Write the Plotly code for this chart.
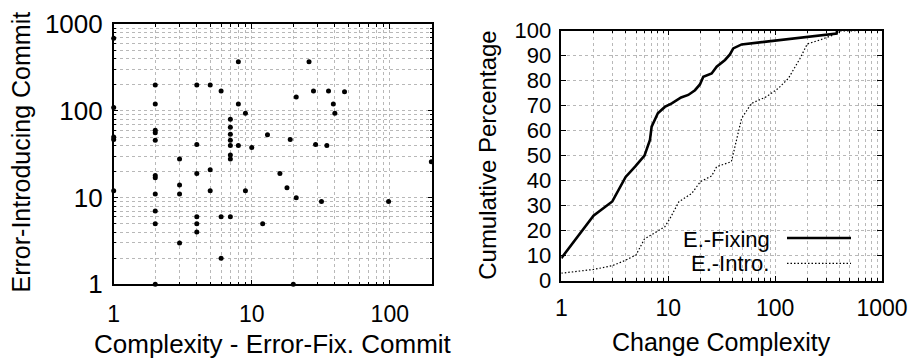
import plotly.graph_objects as go

# ---------------- data ----------------
# left: scatter of complexity of error-fixing commit vs error-introducing commit
fix_complexity = [1, 1, 1, 1, 1,
                  2, 2, 2, 2, 2, 2, 2, 2, 2, 2, 2,
                  3, 3, 3, 3,
                  4, 4, 4, 4, 4, 4,
                  5, 5, 5,
                  6, 6, 6,
                  7, 7, 7, 7, 7, 7, 7, 7,
                  8, 8, 8,
                  9, 9,
                  10, 12, 13, 16, 18, 19, 20, 21, 21, 26, 28, 29, 32, 35, 36, 39, 40, 47, 98, 200]
intro_complexity = [690, 110, 50, 47, 12,
                    200, 120, 60, 56, 46, 18, 17, 11, 7, 5, 1,
                    28, 14, 11, 3,
                    200, 41, 19, 6, 5, 4,
                    200, 21, 12,
                    170, 6, 2,
                    80, 65, 54, 46, 40, 31, 28, 6,
                    370, 120, 40,
                    94, 12,
                    38, 5, 53, 19, 13, 47, 1, 145, 10, 370, 170, 41, 9, 40, 170, 120, 94, 167, 9, 26]

# right: cumulative distributions of change complexity
fixing_x = [1, 2, 3, 4, 4.9, 6, 6.75, 7, 8, 9.3, 10.8, 12, 13.2, 15.4, 17.8, 19.8,
            21.3, 25.5, 28.4, 34, 37.8, 40.6, 48.6, 376, 380]
fixing_pct = [9, 26, 31.7, 41.5, 45.6, 50, 56.3, 61.6, 67, 69.5, 70.9, 72, 73.3, 74.3, 76.2, 78.5,
              81.6, 82.9, 85.6, 88.3, 90.5, 92.9, 94.5, 98.9, 100]
intro_x = [1, 2, 3, 3.9, 5, 6, 7, 9.3, 10.4, 12.6, 16.6, 20, 25.5, 28.4, 39, 40.6, 43.7,
           48.6, 60, 83, 107, 133, 171, 200, 263, 350, 405, 600]
intro_pct = [3, 4.5, 6, 8, 10.3, 16.7, 18.4, 21.6, 24.9, 31.6, 34.9, 39.6, 41.9, 45.6, 47.6, 51, 56.3,
             64.9, 70.9, 73.6, 76.9, 80.9, 88.9, 94.7, 96.3, 98.3, 99.9, 100]

series_names = ["E.-Fixing", "E.-Intro."]
left_x_ticks = [1, 10, 100]
left_y_ticks = [1, 10, 100, 1000]
right_x_ticks = [1, 10, 100, 1000]
right_y_ticks = list(range(0, 101, 10))

# ---------------- styling ----------------
W, H = 913, 363
GRID = "#b8b8b8"
GDASH = "3px,3px"
FONT = "Liberation Sans, Arial, sans-serif"


def px_x(v):
    return v / W


def px_y(v):
    return (H - v) / H


def minor_vals(decades):
    return [d * m for d in decades for m in range(2, 10)]


def base_axis(**kw):
    a = dict(showline=True, linecolor="black", linewidth=1.5, mirror="ticks",
             ticks="inside", ticklen=5, tickcolor="black", tickwidth=1,
             showgrid=True, gridcolor=GRID, griddash=GDASH, gridwidth=1,
             zeroline=False, automargin=False, fixedrange=True,
             tickfont=dict(family=FONT, size=23, color="black"))
    a.update(kw)
    return a


def minor_axis(decades):
    return dict(tickvals=minor_vals(decades), ticks="inside", ticklen=3,
                tickcolor="black", tickwidth=1, showgrid=True,
                gridcolor=GRID, griddash=GDASH, gridwidth=1)


fig = go.Figure()

fig.add_trace(go.Scatter(x=fix_complexity, y=intro_complexity, mode="markers",
                         marker=dict(color="black", size=5), cliponaxis=False,
                         xaxis="x", yaxis="y", showlegend=False))
fig.add_trace(go.Scatter(x=fixing_x, y=fixing_pct, mode="lines", name=series_names[0],
                         line=dict(color="black", width=2.6),
                         xaxis="x2", yaxis="y2", showlegend=False))
fig.add_trace(go.Scatter(x=intro_x, y=intro_pct, mode="lines", name=series_names[1],
                         line=dict(color="black", width=1.2, dash="1.5px,2px"),
                         xaxis="x2", yaxis="y2", showlegend=False))

fig.update_layout(
    width=W, height=H,
    margin=dict(l=0, r=0, t=0, b=0),
    paper_bgcolor="white", plot_bgcolor="white",
    font=dict(family=FONT, color="black"),
    xaxis=base_axis(type="log", range=[0, 2.308],
                    domain=[px_x(113.7), px_x(432.3)], anchor="y",
                    tickvals=left_x_ticks, ticktext=[str(v) for v in left_x_ticks],
                    ticklabelstandoff=8,
                    minor=minor_axis([1, 10, 100])),
    yaxis=base_axis(type="log", range=[0, 3],
                    domain=[px_y(284.3), px_y(24.3)], anchor="x",
                    tickvals=left_y_ticks, ticktext=[str(v) for v in left_y_ticks],
                    ticklabelstandoff=4,
                    tickfont=dict(family=FONT, size=26, color="black"),
                    minor=minor_axis([1, 10, 100])),
    xaxis2=base_axis(type="log", range=[0, 3],
                     domain=[px_x(561.3), px_x(882)], anchor="y2",
                     tickvals=right_x_ticks, ticktext=[str(v) for v in right_x_ticks],
                     ticklabelstandoff=6,
                     minor=minor_axis([1, 10, 100])),
    yaxis2=base_axis(range=[0, 100], tickvals=right_y_ticks,
                     ticktext=[str(v) for v in right_y_ticks],
                     domain=[px_y(280.7), px_y(30.7)], anchor="x2",
                     ticklabelstandoff=4,
                     tickfont=dict(family=FONT, size=22, color="black")),
)

ann = []
ann.append(dict(text="Error-Introducing Commit", textangle=-90, x=px_x(20), y=px_y(152.5),
                xref="paper", yref="paper", showarrow=False, xanchor="center", yanchor="middle",
                font=dict(family=FONT, size=25, color="black")))
ann.append(dict(text="Complexity - Error-Fix. Commit", x=px_x(272.5), y=px_y(344),
                xref="paper", yref="paper", showarrow=False, xanchor="center", yanchor="middle",
                font=dict(family=FONT, size=26, color="black")))
ann.append(dict(text="Cumulative Percentage", textangle=-90, x=px_x(488), y=px_y(154.8),
                xref="paper", yref="paper", showarrow=False, xanchor="center", yanchor="middle",
                font=dict(family=FONT, size=24, color="black")))
ann.append(dict(text="Change Complexity", x=px_x(721.7), y=px_y(342),
                xref="paper", yref="paper", showarrow=False, xanchor="center", yanchor="middle",
                font=dict(family=FONT, size=25, color="black")))
# legend (gnuplot style: text, then sample line)
ann.append(dict(text=series_names[0], x=px_x(772), y=px_y(239),
                xref="paper", yref="paper", showarrow=False, xanchor="right", yanchor="middle",
                font=dict(family=FONT, size=22, color="black")))
ann.append(dict(text=series_names[1], x=px_x(771), y=px_y(263.5),
                xref="paper", yref="paper", showarrow=False, xanchor="right", yanchor="middle",
                font=dict(family=FONT, size=22, color="black")))
fig.update_layout(annotations=ann)

fig.update_layout(shapes=[
    dict(type="line", xref="paper", yref="paper", x0=px_x(787), x1=px_x(851),
         y0=px_y(238), y1=px_y(238), line=dict(color="black", width=2.6)),
    dict(type="line", xref="paper", yref="paper", x0=px_x(787), x1=px_x(851),
         y0=px_y(263.3), y1=px_y(263.3), line=dict(color="black", width=1.2, dash="1.5px,2px")),
])

fig.write_html("out.html", config={"displayModeBar": False},
               post_script="document.body.style.margin='0px';document.body.style.overflow='hidden';")
